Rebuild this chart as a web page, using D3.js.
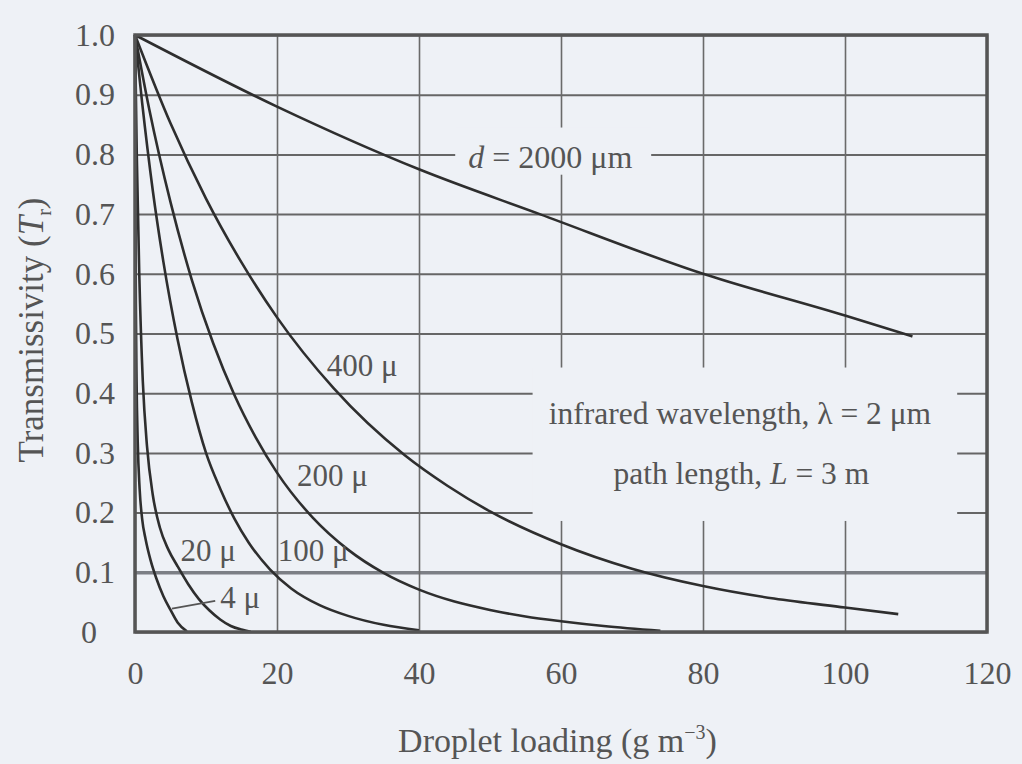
<!DOCTYPE html>
<html>
<head>
<meta charset="utf-8">
<script src="https://cdn.jsdelivr.net/npm/d3@7"></script>
<style>
  html, body { margin: 0; padding: 0; background: #eef1f6; }
  svg { display: block; }
  text { font-family: "Liberation Serif", "DejaVu Serif", serif; fill: #555; }
</style>
</head>
<body>
<div id="chart"></div>
<script>
// droplet loading (g m^-3) vs transmissivity
const xTicks = [0, 20, 40, 60, 80, 100, 120];
const yTicks = [0, 0.1, 0.2, 0.3, 0.4, 0.5, 0.6, 0.7, 0.8, 0.9, 1.0];

const load4 = [0, 0.05, 0.12, 0.22, 0.38, 0.65, 1.0, 1.5, 2.2, 3.0, 4.0, 5.0, 6.0, 7.3];
const trans4 = [1, 0.75, 0.55, 0.42, 0.32, 0.24, 0.19, 0.155, 0.12, 0.09, 0.06, 0.037, 0.016, 0.001];

const load20 = [0, 0.25, 0.6, 1.1, 1.7, 2.5, 3.5, 4.7, 6, 7.5, 9, 10.5, 12, 13.5, 15, 16.3];
const trans20 = [1, 0.8, 0.6, 0.42, 0.31, 0.23, 0.175, 0.138, 0.11, 0.08, 0.055, 0.036, 0.021, 0.01, 0.004, 0.0005];

const load100 = [0, 1, 2.5, 4, 6, 8, 10, 12, 14, 16, 19, 22, 26, 30, 35, 40];
const trans100 = [1, 0.887, 0.74, 0.62, 0.49, 0.385, 0.3, 0.24, 0.19, 0.15, 0.105, 0.073, 0.045, 0.027, 0.012, 0.003];

const load200 = [0, 2, 5, 8, 11, 14, 17, 20, 25, 30, 35, 40, 45, 50, 55, 60, 66, 74];
const trans200 = [1, 0.876, 0.72, 0.59, 0.484, 0.397, 0.326, 0.267, 0.192, 0.138, 0.099, 0.071, 0.051, 0.037, 0.026, 0.018, 0.01, 0.002];

const load400 = [0, 5, 10, 15, 20, 28, 38, 44, 50, 60, 70, 80, 90, 100, 107.5];
const trans400 = [1, 0.852, 0.726, 0.619, 0.527, 0.408, 0.296, 0.245, 0.202, 0.147, 0.106, 0.077, 0.056, 0.041, 0.03];

const load2000 = [0, 20, 40, 57, 80, 100, 109.5];
const trans2000 = [1, 0.88, 0.775, 0.7, 0.6, 0.53, 0.495];

const seriesX = [load4, load20, load100, load200, load400, load2000];
const seriesY = [trans4, trans20, trans100, trans200, trans400, trans2000];

// curve labels in data coordinates
const labelText = ["4 μ", "20 μ", "100 μ", "200 μ", "400 μ"];
const labelX = [14.8, 10.3, 25.1, 27.8, 32];
const labelY = [0.059, 0.137, 0.137, 0.263, 0.447];

const width = 1022, height = 764;
const margin = { top: 35, right: 35, bottom: 132, left: 135 };
const plotW = width - margin.left - margin.right;
const plotH = height - margin.top - margin.bottom;

const x = d3.scaleLinear().domain([0, 120]).range([0, plotW]);
const y = d3.scaleLinear().domain([0, 1]).range([plotH, 0]);

const bg = "#eef1f6";
const svg = d3.select("#chart").append("svg")
    .attr("width", width)
    .attr("height", height)
    .style("background", bg);

const g = svg.append("g").attr("transform", `translate(${margin.left},${margin.top})`);

// grid via axes
const yAxis = g.append("g")
    .call(d3.axisLeft(y).tickValues(yTicks)
        .tickSize(-plotW)
        .tickFormat(d => d === 0 ? "0" : d.toFixed(1)));
yAxis.select(".domain").remove();
yAxis.selectAll("line")
    .attr("stroke", d => Math.abs(d - 0.1) < 1e-6 ? "#7c7f85" : "#666")
    .attr("stroke-width", d => Math.abs(d - 0.1) < 1e-6 ? 3.5 : 2);
yAxis.selectAll("text")
    .attr("x", d => d === 0 ? -54 : -60)
    .attr("text-anchor", "start")
    .attr("font-size", 32)
    .style("fill", "#555");

const xAxis = g.append("g")
    .attr("transform", `translate(0,${plotH})`)
    .call(d3.axisBottom(x).tickValues(xTicks).tickSize(-plotH).tickPadding(29));
xAxis.select(".domain").remove();
xAxis.selectAll("line").attr("stroke", "#6a6a6a").attr("stroke-width", 1.6);
xAxis.selectAll("text")
    .attr("font-size", 32)
    .style("fill", "#555");

// blank patches behind the annotation text
const masks = [
    { x0: 45.1, x1: 72.7, y0: 0.766, y1: 0.845 },
    { x0: 56, x1: 115.8, y0: 0.186, y1: 0.443 }
];
g.selectAll(".mask").data(masks).join("rect")
    .attr("class", "mask")
    .attr("x", d => x(d.x0))
    .attr("y", d => y(d.y1))
    .attr("width", d => x(d.x1) - x(d.x0))
    .attr("height", d => y(d.y0) - y(d.y1))
    .attr("fill", bg);

// curves
const line = d3.line()
    .x(d => x(d[0]))
    .y(d => y(d[1]))
    .curve(d3.curveMonotoneX);

g.selectAll(".curve")
    .data(seriesX.map((xs, i) => xs.map((v, j) => [v, seriesY[i][j]])))
    .join("path")
    .attr("class", "curve")
    .attr("d", line)
    .attr("fill", "none")
    .attr("stroke", "#2e2e2e")
    .attr("stroke-width", 2.6);

// frame
g.append("rect")
    .attr("width", plotW)
    .attr("height", plotH)
    .attr("fill", "none")
    .attr("stroke", "#555")
    .attr("stroke-width", 3.5);

// curve labels
g.selectAll(".clabel")
    .data(labelText)
    .join("text")
    .attr("class", "clabel")
    .attr("x", (d, i) => x(labelX[i]))
    .attr("y", (d, i) => y(labelY[i]))
    .attr("dy", "0.35em")
    .attr("text-anchor", "middle")
    .attr("font-size", 31)
    .text(d => d);

// leader for 4 μ
g.append("line")
    .attr("x1", x(5.2)).attr("y1", y(0.039))
    .attr("x2", x(11.3)).attr("y2", y(0.052))
    .attr("stroke", "#555")
    .attr("stroke-width", 1.8);

// d = 2000 μm
const dLab = g.append("text")
    .attr("x", x(58.5))
    .attr("y", y(0.796))
    .attr("dy", "0.35em")
    .attr("text-anchor", "middle")
    .attr("font-size", 32);
dLab.append("tspan").attr("font-style", "italic").text("d");
dLab.append("tspan").text(" = 2000 μm");

// conditions
g.append("text")
    .attr("x", x(85.2))
    .attr("y", y(0.367))
    .attr("dy", "0.35em")
    .attr("text-anchor", "middle")
    .attr("font-size", 31.5)
    .text("infrared wavelength, λ = 2 μm");

const pLab = g.append("text")
    .attr("x", x(85.4))
    .attr("y", y(0.266))
    .attr("dy", "0.35em")
    .attr("text-anchor", "middle")
    .attr("font-size", 31.5);
pLab.append("tspan").text("path length, ");
pLab.append("tspan").attr("font-style", "italic").text("L");
pLab.append("tspan").text(" = 3 m");

// axis titles
const xt = svg.append("text")
    .attr("x", margin.left + x(59.5))
    .attr("y", 752)
    .attr("text-anchor", "middle")
    .attr("font-size", 34);
xt.append("tspan").text("Droplet loading (g m");
xt.append("tspan").attr("dy", -13).attr("font-size", 20).text("−3");
xt.append("tspan").attr("dy", 13).text(")");

const yt = svg.append("text")
    .attr("transform", "translate(43,330) rotate(-90)")
    .attr("text-anchor", "middle")
    .attr("font-size", 35);
yt.append("tspan").text("Transmissivity (");
yt.append("tspan").attr("font-style", "italic").text("T");
yt.append("tspan").attr("dy", 8).attr("font-size", 20).text("r");
yt.append("tspan").attr("dy", -8).text(")");
</script>
</body>
</html>
